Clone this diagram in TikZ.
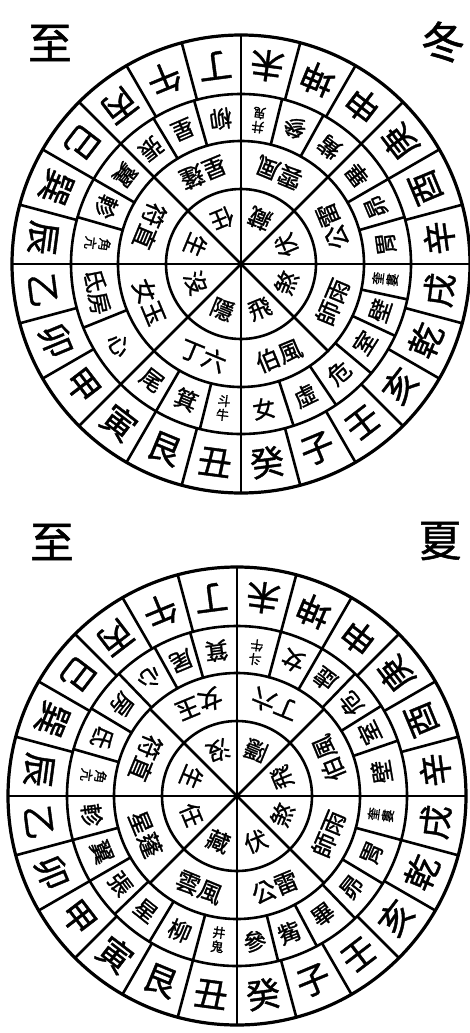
\documentclass[tikz,border=0pt]{standalone}
\usepackage{fontspec}
\newfontfamily\cjk{Noto Sans CJK TC}[FakeBold=1.2]
\tikzset{
  ln/.style={line width=2.6pt, line cap=round},
  circ/.style={line width=2.6pt},
  outerc/.style={line width=3.2pt},
  mtn/.style={font=\cjk\fontsize{34}{34}\selectfont, inner sep=0pt},
  mans/.style={font=\cjk\fontsize{23}{23}\selectfont, inner sep=0pt},
  deity/.style={font=\cjk\fontsize{24}{24}\selectfont, inner sep=0pt},
  core/.style={font=\cjk\fontsize{23}{23}\selectfont, inner sep=0pt},
  corner/.style={font=\cjk\fontsize{44}{44}\selectfont, inner sep=0pt}
}
\newcommand\pairtxt[2]{{\fontsize{13}{14}\selectfont\begin{tabular}{@{}c@{}}#1\\[-1pt]#2\end{tabular}}}
\newcommand\luopan[6]{%
\begin{scope}[shift={#2}]
  \draw[outerc] (0,0) circle (229);
  \draw[circ] (0,0) circle (170);
  \draw[circ] (0,0) circle (123);
  \draw[circ] (0,0) circle (75);
  \foreach \k in {0,...,23} \draw[ln] (15*\k:170) -- (15*\k:229);
  \foreach \a in {#3} \draw[ln] (\a:123) -- (\a:170);
  \foreach \k in {0,...,7} \draw[ln] (0,0) -- (45*\k:123);
  \foreach \c [count=\i from 0] in {丁,午,丙,巳,巽,辰,乙,卯,甲,寅,艮,丑,癸,子,壬,亥,乾,戌,辛,酉,庚,申,坤,未}
    \node[mtn, rotate={187.5+15*\i}] (#1A\i) at ({97.5+15*\i}:200) {\c};
  \foreach \a/\b/\t [count=\i] in {#4}
    \node[mans, rotate={(\a+\b)/2+90}] (#1B\i) at ({(\a+\b)/2}:146.5) {\t};
  \foreach \t [count=\i from 0] in {#5}
    \node[deity, rotate={202.5+45*\i}] (#1C\i) at ({112.5+45*\i}:99) {\t};
  \foreach \t [count=\i from 0] in {#6}
    \node[core, rotate={202.5+45*\i}] (#1D\i) at ({112.5+45*\i}:49) {\t};
\end{scope}}
\begin{document}
\begin{tikzpicture}[x=1pt,y=1pt]
\useasboundingbox (0,0) rectangle (470,-1033);
\fill[white] (0,0) rectangle (470,-1033);
\node[corner] (tl) at (50,-43) {至};
\node[corner] (tr) at (443,-42) {冬};
\node[corner] (bl) at (52,-542) {至};
\node[corner] (br) at (440,-541) {夏};
\luopan{t}{(241,-264)}
 {90,106,121,135,150,164,180,202,225,240,256,270,288,304,320,335,348,0,16,30,45,61,76}
 {90/106/柳, 106/121/星, 121/135/張, 135/150/翼, 150/164/軫, 164/180/\pairtxt{角}{亢}, 180/202/氐房, 202/225/心, 225/240/尾, 240/256/箕, 256/270/\pairtxt{斗}{牛}, 270/288/女, 288/304/虛, 304/320/危, 320/335/室, 335/348/壁, 348/360/\pairtxt{奎}{婁}, 0/16/胃, 16/30/昴, 30/45/畢, 45/61/觜, 61/76/參, 76/90/\pairtxt{井}{鬼}}
 {星蓬,符直,女玉,丁六,伯風,師雨,公雷,雲風}
 {任,生,沒,隱,飛,煞,伏,藏}
\luopan{b}{(237,-796)}
 {90,106,119,134,149,164,180,195,210,224,239,255,270,284,298,314,329,345,0,19,32,46,60,75}
 {90/106/箕, 106/119/尾, 119/134/心, 134/149/房, 149/164/氐, 164/180/\pairtxt{角}{亢}, 180/195/軫, 195/210/翼, 210/224/張, 224/239/星, 239/255/柳, 255/270/\pairtxt{井}{鬼}, 270/284/參, 284/298/觜, 298/314/畢, 314/329/昴, 329/345/胃, 345/360/\pairtxt{奎}{婁}, 0/19/壁, 19/32/室, 32/46/危, 46/60/虛, 60/75/女, 75/90/\pairtxt{斗}{牛}}
 {女玉,符直,星蓬,雲風,公雷,師雨,伯風,丁六}
 {沒,生,任,藏,伏,煞,飛,隱}
\end{tikzpicture}
\end{document}
